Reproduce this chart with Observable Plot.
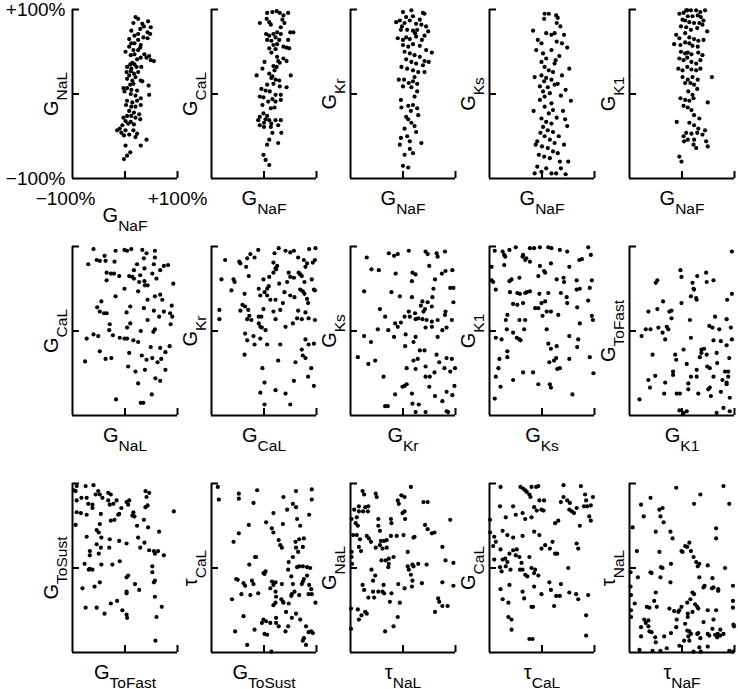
<!DOCTYPE html>
<html><head><meta charset="utf-8">
<script src="https://cdn.jsdelivr.net/npm/d3@7"></script>
<script src="https://cdn.jsdelivr.net/npm/@observablehq/plot@0.6"></script>
<style>
body{margin:0;background:#fff;}
#chart{position:relative;width:738px;height:689px;overflow:hidden;background:#fff;}
#chart svg{position:absolute;}
</style></head><body><div id="chart"></div>
<script>
// ---------- data (percent change, -100..+100) ----------
const gNaF_gNaL = [[20,91],[25,89],[44,86],[33,83],[16,84],[36,80],[49,79],[29,77],[12,75],[43,73],[48,71],[25,71],[18,69],[35,67],[43,66],[8,65],[25,64],[12,60],[18,60],[30,58],[8,56],[29,55],[1,50],[16,52],[25,52],[11,46],[18,47],[37,47],[46,45],[55,39],[49,40],[41,43],[30,43],[23,41],[14,37],[10,35],[18,35],[4,32],[12,30],[22,32],[31,32],[3,26],[11,27],[17,24],[25,26],[8,22],[20,20],[30,16],[4,18],[14,16],[10,11],[16,12],[33,15],[-3,7],[4,7],[12,5],[-1,3],[23,4],[45,10],[11,0],[20,-2],[46,-1],[30,-5],[4,-8],[14,-10],[23,-8],[2,-13],[12,-15],[20,-15],[30,-13],[8,-20],[17,-22],[27,-24],[4,-26],[-3,-28],[12,-26],[20,-28],[29,-30],[1,-32],[11,-33],[-5,-37],[6,-35],[17,-36],[-10,-41],[1,-43],[-15,-43],[16,-43],[-2,-49],[8,-48],[20,-51],[41,-54],[30,-61],[1,-61],[10,-69],[4,-73],[-2,-77],[-7,-46],[23,-47]];
const gNaF_gCaL = [[6,96],[16,97],[24,98],[30,96],[37,93],[46,96],[-8,84],[5,89],[10,85],[13,82],[35,88],[39,84],[32,79],[50,73],[56,73],[4,71],[10,69],[18,71],[25,73],[32,71],[6,64],[14,63],[22,67],[29,64],[46,64],[18,58],[25,59],[37,56],[43,55],[48,54],[10,54],[22,53],[14,49],[25,44],[37,42],[43,39],[30,37],[1,38],[18,33],[27,39],[-3,30],[20,28],[24,32],[-14,22],[10,24],[16,21],[22,17],[29,16],[14,19],[51,22],[6,11],[18,12],[30,9],[43,8],[-5,6],[3,4],[11,3],[22,-1],[32,-1],[-8,-3],[-1,-4],[16,-6],[8,-9],[22,-9],[32,-7],[-3,-13],[13,-17],[20,-16],[-1,-23],[-8,-27],[3,-30],[10,-31],[14,-35],[22,-31],[32,-31],[-11,-31],[0,-34],[27,-37],[0,-39],[-8,-37],[16,-46],[33,-46],[10,-54],[6,-60],[27,-58],[-1,-72],[3,-78],[10,-84],[13,-39],[6,-26]];
const gNaF_gKr = [[0,97],[16,99],[38,96],[41,95],[-13,85],[-6,87],[6,91],[13,87],[19,92],[25,83],[35,82],[44,80],[-4,76],[8,76],[19,75],[27,76],[48,74],[-10,66],[0,64],[6,67],[13,65],[25,68],[41,69],[0,58],[10,56],[19,59],[32,57],[44,52],[55,49],[3,50],[13,48],[22,46],[32,44],[49,38],[6,41],[16,38],[25,36],[38,34],[-3,32],[8,30],[19,28],[29,26],[41,26],[-8,17],[2,17],[11,13],[19,15],[27,12],[16,8],[27,3],[22,-3],[-4,-7],[10,-14],[19,-13],[27,-17],[-3,-16],[15,-20],[6,-27],[10,-30],[16,-34],[22,-38],[3,-41],[25,-45],[-4,-52],[8,-50],[35,-58],[-6,-60],[13,-65],[19,-70],[3,-72],[0,-85],[10,-87],[3,84],[-2,80],[32,88],[23,72],[36,64],[41,39],[0,9],[22,20],[29,-25],[13,-56]];
const gNaF_gKs = [[5,95],[13,95],[27,93],[4,89],[8,72],[18,70],[24,72],[-8,64],[-1,60],[-11,52],[2,48],[18,52],[8,42],[-1,38],[24,36],[5,32],[13,28],[21,26],[-1,22],[8,19],[18,17],[4,15],[-4,9],[11,8],[24,11],[2,3],[15,1],[5,-3],[-4,-7],[18,-11],[5,-15],[21,-19],[13,-23],[-1,-29],[8,-33],[18,-35],[2,-39],[11,-43],[21,-45],[-3,-46],[5,-50],[15,-54],[24,-58],[-9,-56],[0,-62],[11,-64],[21,-68],[-6,-72],[4,-74],[15,-76],[-14,-94],[-1,-92],[8,-88],[18,-94],[27,-94],[-9,-86],[30,90],[35,80],[42,70],[28,62],[48,55],[33,45],[52,30],[38,22],[30,12],[45,5],[36,-2],[55,-8],[28,-28],[40,-20],[48,-38],[32,-50],[42,-60],[30,-70],[50,-80],[36,-88],[45,-95],[28,84],[38,60],[26,40],[44,-30],[34,-80],[-17,75],[-14,20],[-16,-20],[-12,-60]];
const gNaF_gK1 = [[-5,95],[3,96],[10,99],[17,99],[27,99],[35,97],[44,99],[11,92],[20,92],[30,93],[36,91],[1,88],[6,87],[14,85],[23,84],[33,84],[39,82],[-2,80],[8,79],[17,76],[29,78],[-11,70],[-5,66],[6,72],[14,67],[23,65],[31,63],[41,64],[-15,59],[-3,58],[6,61],[14,60],[20,57],[30,56],[-2,50],[6,48],[11,49],[18,47],[31,49],[39,46],[-5,42],[3,40],[10,43],[18,38],[27,36],[35,40],[-7,30],[1,28],[10,32],[18,29],[27,28],[35,30],[57,20],[1,20],[11,17],[20,20],[30,17],[6,13],[16,13],[23,11],[29,6],[12,3],[20,-1],[-3,-5],[6,-7],[14,-8],[22,-5],[49,-10],[3,-14],[11,-16],[18,-19],[23,-25],[33,-29],[-10,-33],[14,-34],[23,-37],[31,-41],[8,-46],[18,-47],[29,-46],[3,-50],[11,-54],[23,-54],[39,-48],[44,-43],[4,-56],[22,-60],[27,-64],[49,-62],[46,-56],[-5,-74],[-1,-80],[8,99],[41,87],[48,74]];
const gNaL_gCaL = [[-60,97],[-70,79],[-54,84],[-48,83],[-39,89],[-37,83],[-18,95],[-20,82],[-1,96],[4,95],[12,97],[33,96],[41,92],[57,95],[57,87],[36,86],[23,79],[17,72],[14,64],[29,66],[37,74],[55,79],[67,72],[74,77],[82,78],[-35,69],[-27,68],[-35,60],[-21,68],[-11,65],[8,65],[17,62],[27,58],[37,59],[43,54],[52,68],[60,62],[92,56],[-1,50],[25,47],[38,54],[-18,41],[43,37],[57,41],[67,43],[71,37],[-45,35],[-53,28],[-48,23],[-40,21],[-35,21],[10,29],[3,22],[36,27],[55,24],[74,23],[86,21],[89,30],[65,17],[90,17],[87,8],[43,13],[10,9],[-29,8],[-30,1],[4,4],[30,0],[54,-1],[57,2],[-60,-4],[-51,-6],[-73,-9],[-23,-5],[-10,-8],[-1,-9],[4,-9],[16,-11],[25,-13],[49,-19],[67,-20],[85,-18],[-48,-24],[8,-26],[32,-29],[41,-34],[52,-32],[62,-37],[69,-33],[77,-25],[-37,-33],[-26,-32],[-76,-36],[6,-42],[20,-48],[38,-46],[77,-46],[58,-56],[67,-59],[25,-62],[51,-75],[-17,-81],[30,-85],[35,-85]];
const gCaL_gKr = [[-74,84],[-81,61],[-85,25],[-85,14],[-62,48],[-58,61],[-56,58],[-47,82],[-45,80],[-37,44],[-32,86],[-34,76],[-26,91],[-18,87],[-11,96],[-29,65],[-45,24],[-41,31],[-36,29],[-30,25],[-28,18],[-24,13],[-32,14],[-10,9],[-7,5],[-4,4],[-5,17],[3,1],[-10,17],[-1,26],[-7,42],[6,50],[-10,50],[1,46],[9,53],[-1,61],[10,64],[6,42],[12,37],[22,37],[18,23],[22,14],[31,25],[36,33],[18,69],[22,74],[18,81],[25,77],[23,73],[20,92],[28,98],[41,95],[50,93],[57,95],[65,87],[76,84],[82,80],[93,81],[97,84],[86,97],[98,98],[79,76],[69,67],[66,69],[72,65],[57,63],[50,64],[47,69],[44,58],[29,56],[39,46],[50,42],[58,40],[69,49],[74,47],[77,44],[82,38],[95,49],[97,48],[91,61],[77,58],[65,24],[63,15],[55,9],[41,5],[72,14],[85,15],[97,13],[79,22],[84,33],[-36,-3],[-32,-11],[-20,-6],[-18,-16],[-7,-9],[6,-16],[31,-16],[79,-10],[85,-16],[95,-15],[72,-22],[74,-29],[79,-32],[60,-37],[-37,-28],[27,-35],[-3,-44],[1,-61],[-7,-73],[1,-87],[22,-70],[41,-74],[50,-87],[57,-59],[84,-54],[90,-44],[95,-65]];
const gKr_gKs = [[-69,87],[-60,73],[-46,72],[-74,47],[-44,26],[-34,17],[-48,2],[-74,-6],[-61,-13],[-86,-31],[-66,-39],[-53,-35],[-37,-54],[-34,-89],[-29,-89],[-27,92],[-17,89],[-10,91],[-14,68],[11,95],[18,69],[24,67],[17,59],[43,94],[47,91],[64,92],[66,88],[80,94],[50,77],[61,61],[58,50],[74,68],[81,71],[94,72],[90,51],[96,51],[96,34],[81,23],[93,13],[80,19],[66,13],[55,11],[45,13],[37,14],[29,15],[24,14],[39,23],[42,26],[23,21],[13,17],[3,17],[-4,10],[-15,9],[-10,5],[-28,1],[-17,-7],[5,-4],[24,-7],[43,4],[55,5],[66,-7],[75,1],[83,4],[64,-28],[11,23],[34,30],[37,35],[47,34],[55,29],[56,40],[17,40],[-22,46],[-6,41],[4,-18],[20,-13],[32,-23],[41,-23],[28,-33],[20,-35],[7,-44],[24,-45],[43,-42],[51,-54],[43,-54],[50,-66],[60,-49],[69,-37],[79,-44],[83,-32],[93,-33],[99,-44],[90,-48],[98,-65],[83,-72],[94,-76],[61,-77],[17,-74],[3,-65],[-1,-66],[7,-63],[-15,-75],[18,-86],[30,-87],[24,-96],[43,-96],[75,-83],[83,-95],[86,-96]];
const gKs_gK1 = [[-90,95],[-75,94],[-72,90],[-62,96],[-50,99],[-37,88],[-30,86],[-23,98],[-15,98],[-4,99],[12,99],[18,98],[34,96],[48,94],[71,84],[76,85],[88,99],[93,90],[-96,76],[-96,60],[-93,58],[-88,49],[-72,78],[-70,88],[-62,59],[-58,61],[-43,63],[-36,90],[-32,84],[-23,82],[-4,77],[4,71],[6,69],[-7,65],[17,80],[28,61],[41,63],[42,58],[52,76],[66,60],[95,60],[-61,46],[-47,45],[-42,44],[-32,45],[-29,46],[-23,47],[-5,44],[12,45],[36,45],[47,40],[66,49],[72,50],[91,51],[88,36],[-55,32],[-47,31],[-36,33],[-13,27],[-7,27],[-1,33],[6,35],[1,18],[9,23],[17,23],[31,19],[48,33],[67,28],[95,18],[97,13],[72,9],[-66,19],[-69,13],[-43,13],[-32,13],[-67,2],[-55,-2],[-48,-8],[-43,-10],[-41,-11],[-34,2],[-88,-8],[-77,-10],[9,2],[52,-6],[69,-10],[67,-19],[12,-15],[17,-21],[28,-18],[27,-32],[23,-35],[14,-37],[52,-33],[-66,-24],[-66,-31],[-81,-33],[-83,-44],[-88,-54],[-79,-66],[-90,-80],[-55,-58],[-36,-49],[-17,-49],[-7,-63],[15,-63],[17,-67],[29,-45],[34,-44],[58,-75],[91,-31],[98,-50]];
const gK1_gToFast = [[-81,-81],[-77,-6],[-69,2],[-64,23],[-60,2],[-56,-28],[-64,-58],[-61,-67],[-51,-53],[-50,57],[-47,60],[-47,26],[-45,4],[-36,35],[-34,-74],[-32,-10],[-29,5],[-26,2],[-20,24],[-24,23],[-17,-52],[-13,-28],[-11,-34],[-10,-74],[-4,-74],[-3,72],[-1,64],[-1,33],[12,-62],[12,-69],[15,13],[17,-8],[17,41],[20,57],[22,50],[23,49],[27,39],[28,37],[29,65],[31,-74],[28,-46],[28,-54],[34,-31],[37,-26],[37,-22],[42,-21],[46,69],[47,-28],[47,58],[48,-42],[50,-69],[52,6],[53,-67],[55,-77],[60,-54],[58,4],[60,60],[63,17],[66,-26],[67,-38],[71,2],[74,-72],[77,-58],[82,-48],[85,-63],[88,-54],[85,14],[86,37],[88,-48],[90,-32],[93,4],[95,44],[85,-61],[91,-79],[95,94],[95,-10],[53,-44],[66,-97],[79,-91],[3,-97],[9,-95],[-5,-94],[91,-95],[60,-11],[74,-12],[85,-17],[-32,-61],[-17,-48],[9,-39],[17,-54],[3,-22],[-20,15],[-37,-2]];
const gToFast_gToSust = [[-97,92],[-92,97],[-75,97],[-60,98],[-51,91],[-92,80],[-83,83],[-73,83],[-70,76],[-62,75],[-56,87],[-48,87],[-43,83],[-92,66],[-84,65],[-73,63],[-62,71],[-46,64],[-32,89],[-27,87],[-32,80],[-29,75],[-22,76],[-16,80],[-7,71],[3,78],[8,80],[6,75],[16,66],[39,91],[46,89],[41,84],[39,72],[43,74],[36,57],[18,61],[14,62],[23,50],[-11,64],[-13,63],[-20,57],[-27,56],[-48,52],[-54,45],[-50,42],[-45,36],[-73,37],[-54,28],[-29,34],[-11,32],[3,29],[25,36],[29,24],[37,30],[46,21],[55,20],[63,20],[74,15],[57,17],[65,43],[44,48],[93,67],[-94,51],[-67,20],[-67,15],[-50,17],[-46,24],[-30,24],[-45,4],[-24,4],[-10,8],[3,-11],[6,-9],[19,-19],[27,-26],[3,-28],[3,-30],[52,2],[52,-5],[55,-17],[57,-15],[57,-34],[60,-58],[70,-46],[58,-86],[-69,-2],[-67,-1],[-62,-2],[-77,5],[-81,-24],[-58,-22],[-48,-17],[-75,-47],[-54,-47],[-39,-54],[-27,-42],[-15,-39],[-5,-50],[3,-55],[4,-59],[-94,91]];
const gToSust_tauCaL = [[-88,96],[-86,81],[-48,88],[-48,82],[-13,92],[-20,77],[-29,51],[-48,41],[-58,31],[-17,13],[-28,4],[-53,-13],[-50,-14],[-39,-18],[-36,-21],[-23,-15],[-20,-19],[-11,-30],[-43,-31],[-26,-32],[-61,-37],[-39,-57],[-55,-75],[-18,-73],[-32,-91],[-4,-65],[-1,-6],[3,-4],[4,54],[15,47],[18,42],[18,65],[28,33],[31,27],[34,24],[36,52],[37,84],[44,69],[47,7],[55,76],[61,91],[61,72],[63,58],[69,50],[60,31],[61,24],[67,34],[76,35],[74,25],[65,19],[55,13],[63,1],[67,2],[74,2],[82,1],[88,0],[91,93],[91,81],[86,63],[82,-9],[76,-13],[74,-16],[72,-19],[67,-32],[86,-20],[90,-25],[85,-31],[91,-31],[98,-41],[46,-2],[52,-10],[55,-19],[58,-28],[53,-31],[52,-33],[34,-19],[22,-17],[18,-20],[12,-24],[15,-16],[22,-28],[23,-34],[33,-37],[36,-40],[37,-41],[47,-42],[22,-41],[18,-44],[42,-52],[61,-54],[-1,-61],[4,-63],[12,-65],[23,-59],[23,-65],[28,-69],[53,-59],[46,-69],[41,-75],[69,-61],[80,-69],[85,-76],[90,-75],[93,-77],[76,-83],[74,-86],[80,-91],[1,-78],[6,-79],[14,-99],[1,-7],[-15,13]];
const tauNaL_gNaL = [[-98,58],[-95,39],[-98,19],[-98,13],[-99,-48],[-99,-72],[-93,69],[-90,53],[-86,50],[-88,39],[-84,67],[-84,73],[-82,34],[-84,25],[-80,20],[-77,91],[-74,87],[-76,67],[-72,72],[-69,38],[-67,67],[-66,73],[-65,35],[-61,31],[-60,-2],[-57,-15],[-53,-9],[-52,24],[-52,88],[-50,84],[-47,58],[-47,50],[-44,44],[-44,27],[-42,32],[-41,9],[-39,23],[-36,32],[-31,24],[-33,9],[-27,5],[-28,1],[-27,11],[-31,33],[-23,58],[-22,53],[-23,38],[-18,13],[-12,38],[-8,76],[-10,80],[-3,86],[3,84],[3,67],[-1,65],[4,58],[1,39],[9,19],[9,2],[11,-2],[15,-8],[20,2],[18,4],[20,36],[22,37],[17,-22],[18,-15],[36,-18],[39,78],[47,78],[42,51],[47,46],[55,41],[60,42],[75,25],[81,9],[90,57],[96,6],[75,-17],[96,-21],[67,-36],[69,-40],[75,-45],[85,-45],[61,-52],[45,4],[29,5],[3,-24],[-6,-41],[-10,-58],[-18,-69],[-34,-75],[-47,-28],[-39,-28],[-36,-30],[-57,-28],[-55,-35],[-66,-35],[-74,-26],[-77,-20],[-72,-52],[-69,-54],[-79,-56],[-86,-49],[-84,-61],[-25,-40],[-37,-20],[-22,-30],[-9,-19],[15,96],[-88,60],[-97,5]];
const tauCaL_gCaL = [[-79,96],[-41,96],[-36,94],[-32,92],[-29,90],[-24,87],[-22,84],[-20,96],[-11,96],[-7,97],[41,98],[74,97],[36,78],[41,84],[48,80],[53,77],[52,69],[57,67],[61,65],[66,71],[82,87],[84,80],[80,73],[86,73],[93,74],[97,84],[90,61],[93,56],[72,50],[-80,73],[-69,60],[-55,73],[-50,63],[-37,65],[-32,58],[-20,60],[-15,72],[-5,80],[4,80],[-1,69],[3,68],[-10,68],[-99,57],[-99,42],[-91,37],[-93,26],[-88,31],[-75,44],[-66,39],[-55,36],[-37,38],[-15,43],[-5,39],[-1,23],[6,27],[15,23],[20,31],[25,17],[29,17],[25,53],[31,56],[66,29],[69,23],[-91,10],[-79,22],[-75,10],[-70,11],[-66,7],[-55,21],[-48,22],[-43,13],[-50,15],[-62,17],[-39,6],[-24,13],[-37,-2],[-80,1],[-77,-4],[-69,2],[-60,-2],[-42,-2],[-32,-8],[-28,-10],[-15,-6],[-20,0],[-13,-2],[-7,-9],[-79,-25],[-62,-20],[-75,-37],[-37,-28],[-34,-36],[-15,-22],[-1,-31],[14,-17],[17,-26],[27,-33],[34,-33],[36,-19],[23,-45],[50,0],[52,-29],[65,-31],[69,-37],[88,-32],[84,-56],[84,-80],[-64,-58],[-58,-61],[-58,-73],[-24,-84],[-18,-84],[-20,-46],[-17,-46],[-64,-41]];
const tauNaF_tauNaL = [[-11,95],[-60,83],[-78,75],[-73,61],[-94,48],[-86,20],[-98,-5],[-98,-22],[-97,-32],[-97,-50],[-97,-58],[-90,-42],[-84,-11],[-78,-70],[-78,-81],[-81,-97],[-72,-61],[-69,-65],[-64,-62],[-64,-69],[-62,-75],[-58,-76],[-51,-82],[-50,-88],[-56,-98],[-41,-98],[-29,-95],[-67,-46],[-62,-47],[-60,-5],[-58,-6],[-53,-39],[-48,-46],[-50,-29],[-43,69],[-37,71],[-41,61],[-35,54],[-50,43],[-43,19],[-40,1],[-37,0],[-41,-11],[-22,43],[-18,35],[-21,5],[-22,-17],[-24,-48],[-34,-81],[-21,-77],[-11,-70],[-10,-61],[-7,-52],[-5,-50],[-1,-46],[-15,-51],[-1,20],[1,19],[10,25],[6,26],[14,30],[17,20],[22,13],[27,7],[30,2],[33,5],[49,3],[33,-11],[23,-31],[20,-29],[16,-37],[10,-41],[25,-43],[29,-46],[31,-48],[20,-52],[11,-54],[11,-58],[6,-66],[10,-74],[14,-75],[17,-78],[12,-81],[4,-86],[-5,-92],[14,-86],[29,-78],[31,-77],[35,-83],[33,-94],[49,-93],[52,-80],[60,-61],[49,-78],[63,-79],[68,-78],[79,-78],[22,-99],[36,-99],[43,-21],[41,-23],[57,-24],[58,-12],[60,-23],[69,-25],[69,-27],[82,0],[97,-21],[97,-39],[97,-47],[98,-67],[99,-69],[90,-98],[97,-99],[79,97],[90,76],[65,47],[65,35],[23,76],[35,87],[65,-50],[67,-82],[73,-80],[49,-50],[41,-64],[58,-72],[73,-73]];

const panelData = [gNaF_gNaL, gNaF_gCaL, gNaF_gKr, gNaF_gKs, gNaF_gK1,
  gNaL_gCaL, gCaL_gKr, gKr_gKs, gKs_gK1, gK1_gToFast,
  gToFast_gToSust, gToSust_tauCaL, tauNaL_gNaL, tauCaL_gCaL, tauNaF_tauNaL];

// axis labels (symbol + subscript)
const xLabelMain = ["G","G","G","G","G","G","G","G","G","G","G","G","τ","τ","τ"];
const xLabelSub  = ["NaF","NaF","NaF","NaF","NaF","NaL","CaL","Kr","Ks","K1","ToFast","ToSust","NaL","CaL","NaF"];
const yLabelMain = ["G","G","G","G","G","G","G","G","G","G","G","τ","G","G","τ"];
const yLabelSub  = ["NaL","CaL","Kr","Ks","K1","CaL","Kr","Ks","K1","ToFast","ToSust","CaL","NaL","CaL","NaL"];

// tick values and the tick labels shown on the first panel
const axisTicks = [0, 100];
const yTickValues = [100, -100];
const yTickLabels = ["+100%", "−100%"];
const xTickLeftLabel = ["−100%"];
const xTickRightLabel = ["+100%"];

// ---------- layout ----------
const FONT = "Liberation Sans";
const PW = 105, PH = 169;          // plot frame
const ML = 72, MR = 6, MT = 12, MB = 60;
const colX = [71.5, 210.8, 350.1, 489.4, 628.7];
const rowY = [9, 246, 483];
const TICK = 7, MAIN = 20, SUB = 15.5, SUBSHIFT = 9, YGAP = 15;
const UX = 200 / PW, UY = 200 / PH;   // data units per pixel

const ctx = document.createElement("canvas").getContext("2d");
function tw(t, size) { ctx.font = `${size}px "${FONT}"`; return ctx.measureText(t).width; }

const root = document.getElementById("chart");

panelData.forEach((pts, i) => {
  const r = Math.floor(i / 5), c = i % 5;
  const xm = xLabelMain[i], xs = xLabelSub[i], ym = yLabelMain[i], ys = yLabelSub[i];
  const wxm = tw(xm, MAIN), wxs = tw(xs, SUB), wym = tw(ym, MAIN), wys = tw(ys, SUB);
  const Tx = wxm + wxs, Ty = wym + wys;
  const drop = i === 0 ? 43 : 26;

  const marks = [
    Plot.ruleX([-100], {stroke: "black", strokeWidth: 2}),
    Plot.ruleY([-100], {stroke: "black", strokeWidth: 2}),
    Plot.tickX(axisTicks, {x: d => d, insetTop: PH - TICK, stroke: "black", strokeWidth: 2}),
    Plot.tickY(axisTicks, {y: d => d, insetRight: PW - TICK, stroke: "black", strokeWidth: 2}),
    Plot.dot(pts, {x: d => d[0], y: d => d[1], r: 2.1, fill: "black"}),
    // x-axis label: symbol + subscript, centred under the axis
    Plot.text([xm], {x: 0, y: -100, text: d => d, textAnchor: "start", lineAnchor: "bottom", dx: -Tx / 2, dy: drop, fontSize: MAIN}),
    Plot.text([xs], {x: 0, y: -100, text: d => d, textAnchor: "start", lineAnchor: "bottom", dx: -Tx / 2 + wxm, dy: drop + SUBSHIFT, fontSize: SUB}),
    // y-axis label: rotated, symbol + subscript, centred beside the axis
    Plot.text([ym], {x: -100 - YGAP * UX, y: -(Ty / 2) * UY, text: d => d, rotate: -90, textAnchor: "start", lineAnchor: "bottom", fontSize: MAIN}),
    Plot.text([ys], {x: -100 - (YGAP - SUBSHIFT) * UX, y: -(Ty / 2 - wym) * UY, text: d => d, rotate: -90, textAnchor: "start", lineAnchor: "bottom", fontSize: SUB})
  ];
  if (i === 0) {
    marks.push(
      Plot.text(yTickValues, {x: -100, y: d => d, text: (d, k) => yTickLabels[k], textAnchor: "end", dx: -7, fontSize: 19}),
      Plot.text(xTickLeftLabel, {x: -100, y: -100, text: d => d, lineAnchor: "bottom", dx: -7, dy: 26, fontSize: 19}),
      Plot.text(xTickRightLabel, {x: 100, y: -100, text: d => d, lineAnchor: "bottom", dy: 26, fontSize: 19})
    );
  }

  const svg = Plot.plot({
    width: ML + PW + MR,
    height: MT + PH + MB,
    marginLeft: ML, marginRight: MR, marginTop: MT, marginBottom: MB,
    x: {domain: [-100, 100], axis: null},
    y: {domain: [-100, 100], axis: null},
    style: {fontFamily: FONT, background: "transparent", overflow: "visible", color: "black"},
    marks
  });
  svg.style.left = (colX[c] - ML) + "px";
  svg.style.top = (rowY[r] - MT) + "px";
  root.appendChild(svg);
});
</script>
</body></html>
